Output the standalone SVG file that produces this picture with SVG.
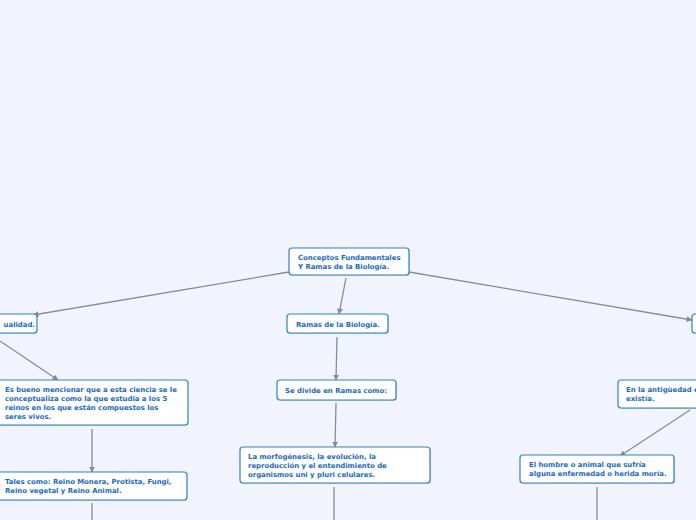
<svg xmlns="http://www.w3.org/2000/svg" width="696" height="520" viewBox="0 0 696 520">
<defs>
<style>
.n rect{fill:#fff;stroke:#2a80da;stroke-width:1.2}
.n .sh{fill:#9aa3b5;stroke:none;opacity:.5}
.n text{font-family:"DejaVu Sans",Verdana,sans-serif;font-weight:bold;font-size:6.9px;fill:#1668cf}
.c path{fill:none;stroke:#878c96;stroke-width:1.3;marker-end:url(#ah)}
.c path.e{marker-end:none}
</style>
<marker id="ah" viewBox="0 0 10 10" refX="9" refY="5" markerWidth="6" markerHeight="6" orient="auto" markerUnits="userSpaceOnUse">
<path d="M0,0 L10,5 L0,10 z" fill="#878c96"/>
</marker>
</defs>
<rect width="696" height="520" fill="#f1f4fd"/>
<g class="c">
<path d="M289,272 L33,315"/>
<path d="M346,278 L339,314"/>
<path d="M409,272 L692,320"/>
<path d="M0,341 L58,380"/>
<path d="M92,429 L92,472"/>
<path class="e" d="M92,503 L92,520"/>
<path d="M337,337 L336,380"/>
<path d="M336,403 L335,447"/>
<path class="e" d="M334,487 L334,520"/>
<path d="M690,410 L620,456"/>
<path class="e" d="M597,487 L597,520"/>
</g>
<g class="n" id="root">
<rect class="sh" x="290" y="249" width="120" height="27" rx="3"/>
<rect x="289" y="248" width="120" height="27" rx="3"/>
<text x="298" y="260">Conceptos Fundamentales</text>
<text x="298" y="269">Y Ramas de la Biología.</text>
</g>
<g class="n" id="actualidad">
<rect class="sh" x="-9" y="315" width="46" height="19" rx="3"/>
<rect x="-10" y="314" width="47" height="19" rx="3"/>
<text x="35" y="327" text-anchor="end">ualidad.</text>
</g>
<g class="n" id="ramas">
<rect class="sh" x="288" y="315" width="101" height="19" rx="3"/>
<rect x="287" y="314" width="101" height="19" rx="3"/>
<text x="296" y="327">Ramas de la Biología.</text>
</g>
<g class="n" id="derecha">
<rect class="sh" x="693" y="315" width="20" height="19" rx="3"/>
<rect x="692" y="314" width="20" height="19" rx="3"/>
</g>
<g class="n" id="esbueno">
<rect class="sh" x="-9" y="381" width="197" height="45" rx="3"/>
<rect x="-10" y="380" width="198" height="45" rx="3"/>
<text x="5" y="392">Es bueno mencionar que a esta ciencia se le</text>
<text x="5" y="401">conceptualiza como la que estudia a los 5</text>
<text x="5" y="410">reinos en los que están compuestos los</text>
<text x="5" y="419">seres vivos.</text>
</g>
<g class="n" id="tales">
<rect class="sh" x="-9" y="473" width="196" height="28" rx="3"/>
<rect x="-10" y="472" width="197" height="28" rx="3"/>
<text x="5" y="484">Tales como: Reino Monera, Protista, Fungi,</text>
<text x="5" y="493">Reino vegetal y Reino Animal.</text>
</g>
<g class="n" id="divide">
<rect class="sh" x="278" y="381" width="119" height="20" rx="3"/>
<rect x="277" y="380" width="119" height="20" rx="3"/>
<text x="285" y="393">Se divide en Ramas como:</text>
</g>
<g class="n" id="morfo">
<rect class="sh" x="241" y="448" width="190" height="36" rx="3"/>
<rect x="240" y="447" width="190" height="36" rx="3"/>
<text x="248" y="459">La morfogénesis, la evolución, la</text>
<text x="248" y="468">reproducción y el entendimiento de</text>
<text x="248" y="477">organismos uni y pluri celulares.</text>
</g>
<g class="n" id="antiguedad">
<rect class="sh" x="619" y="381" width="90" height="28" rx="3"/>
<rect x="618" y="380" width="90" height="28" rx="3"/>
<text x="626" y="392">En la antigüedad e</text>
<text x="626" y="401">existía.</text>
</g>
<g class="n" id="hombre">
<rect class="sh" x="521" y="456" width="154" height="28" rx="3"/>
<rect x="520" y="455" width="154" height="28" rx="3"/>
<text x="529" y="467">El hombre o animal que sufría</text>
<text x="529" y="476">alguna enfermedad o herida moría.</text>
</g>
</svg>
